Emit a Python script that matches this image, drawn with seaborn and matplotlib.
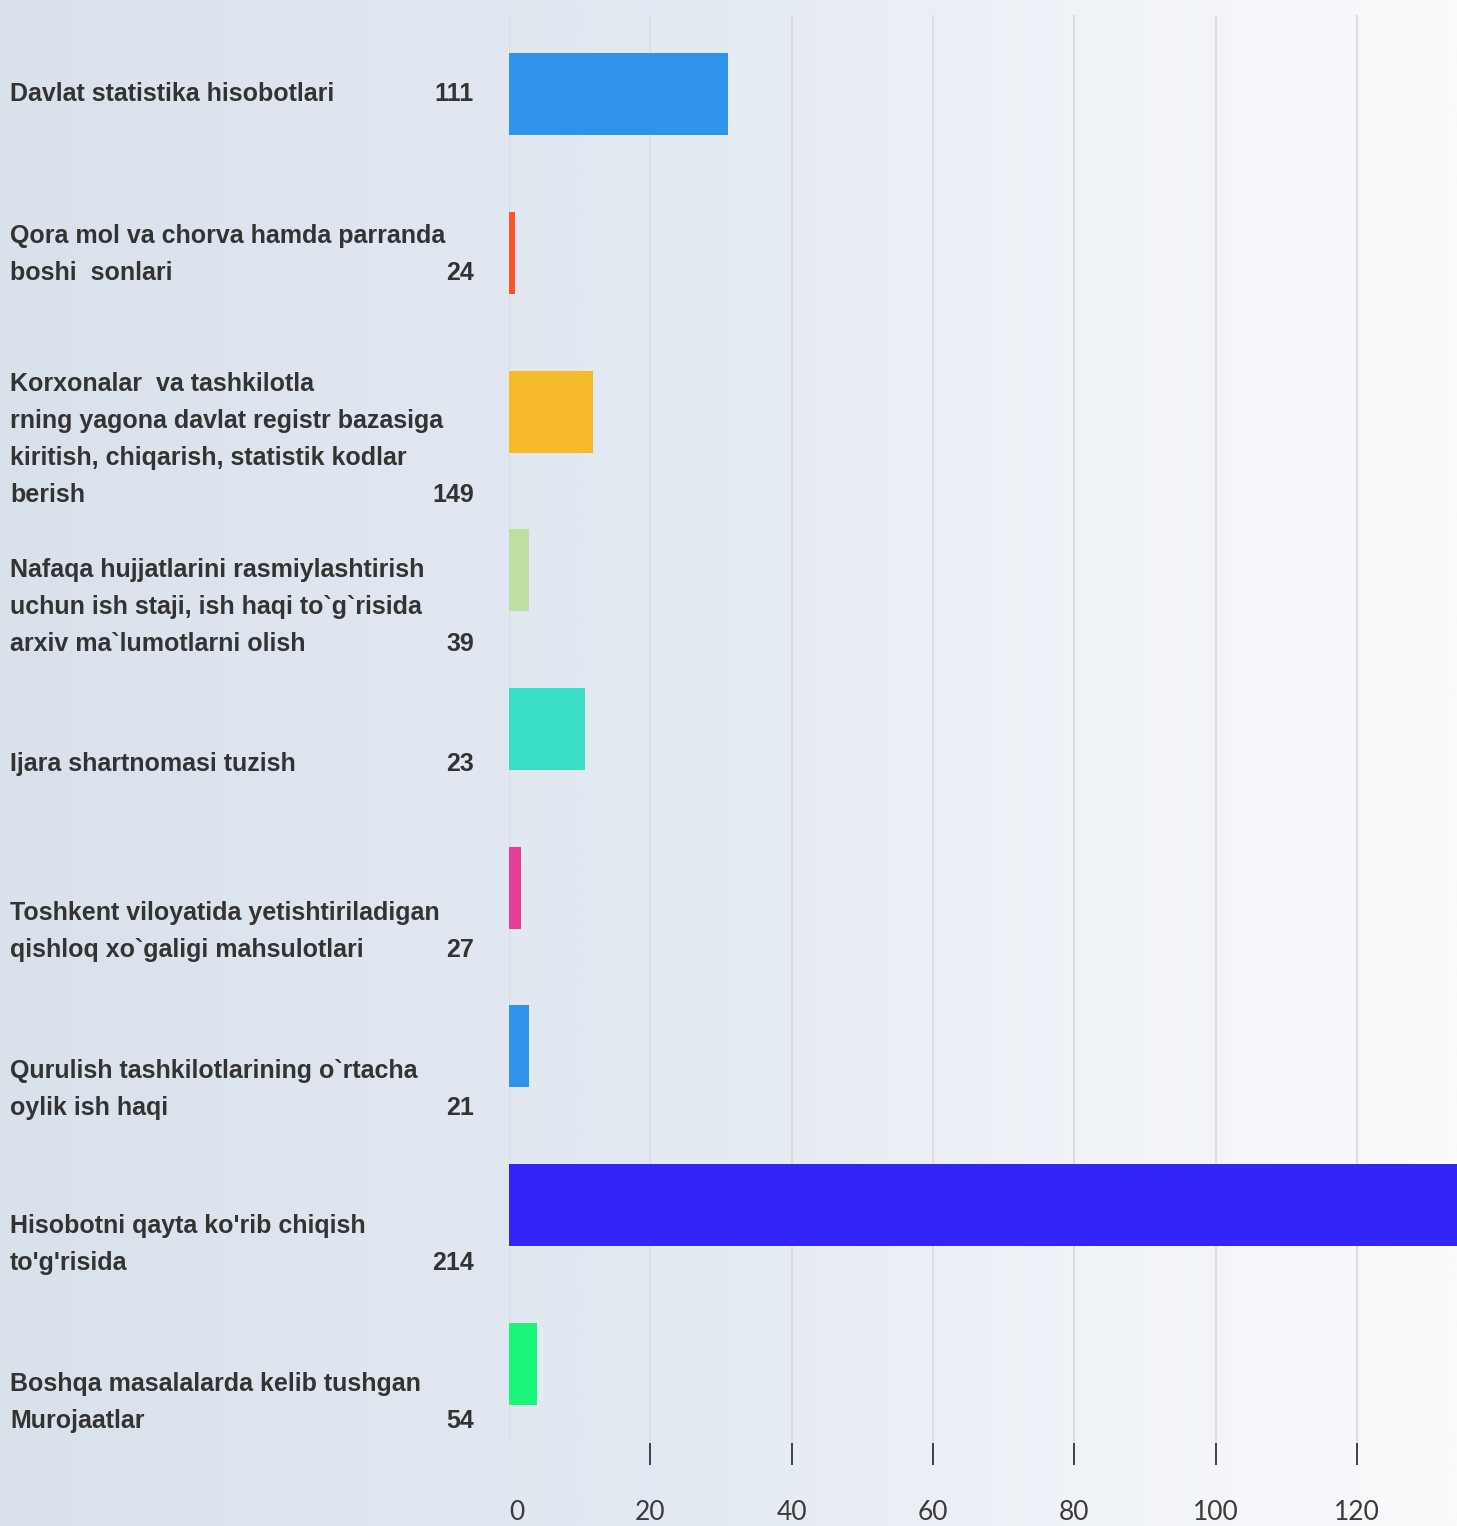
import numpy as np
import pandas as pd
import matplotlib
matplotlib.use("Agg")
import matplotlib.pyplot as plt
import matplotlib.transforms as mtransforms
import seaborn as sns

# categories (as shown on the left), the counts printed next to them, and bar lengths
labels = [
    "Davlat statistika hisobotlari",
    "Qora mol va chorva hamda parranda\nboshi  sonlari",
    "Korxonalar  va tashkilotla\nrning yagona davlat registr bazasiga\nkiritish, chiqarish, statistik kodlar\nberish",
    "Nafaqa hujjatlarini rasmiylashtirish\nuchun ish staji, ish haqi to`g`risida\narxiv ma`lumotlarni olish",
    "Ijara shartnomasi tuzish",
    "Toshkent viloyatida yetishtiriladigan\nqishloq xo`galigi mahsulotlari",
    "Qurulish tashkilotlarining o`rtacha\noylik ish haqi",
    "Hisobotni qayta ko'rib chiqish\nto'g'risida",
    "Boshqa masalalarda kelib tushgan\nMurojaatlar",
]
counts = ["111", "24", "149", "39", "23", "27", "21", "214", "54"]
bar_values = [31.0, 0.9, 11.9, 2.8, 10.8, 1.7, 2.8, 140.0, 4.0]
bar_colors = ["#2f93ec", "#fc532b", "#f6b92b", "#bde0a2", "#3adec4",
              "#e63d96", "#2f93ec", "#3325f8", "#1df57a"]
xticks = [0, 20, 40, 60, 80, 100, 120]

# vertical nudge of each label block relative to its bar (pixels, downward)
label_shift = [0, 1, 28, 37, 35, 44, 43, 40, 39]

sns.set_theme(style="white")
plt.rcParams["font.family"] = ["Liberation Sans Narrow", "Liberation Sans", "DejaVu Sans"]

W, H, DPI = 1457, 1526, 100
fig = plt.figure(figsize=(W / DPI, H / DPI), dpi=DPI)

# background gradient
bg = fig.add_axes([0, 0, 1, 1], zorder=-10)
grad = np.linspace(0, 1, 512)[None, :]
cmap = matplotlib.colors.LinearSegmentedColormap.from_list(
    "bg", ["#d9e1eb", "#e5ebf3", "#fbfbfd"])
bg.imshow(grad, aspect="auto", cmap=cmap, extent=[0, 1, 0, 1])
bg.set_axis_off()

ax = fig.add_axes([509 / W, 83 / H, 1 - 509 / W, (1443 - 15) / H])
ax.patch.set_alpha(0)

df = pd.DataFrame({"label": labels, "value": bar_values})
sns.barplot(data=df, x="value", y="label", hue="label", palette=bar_colors,
            legend=False, width=0.517, orient="h", ax=ax, saturation=1,
            linewidth=0, zorder=3)

ax.set_xlim(0, (W - 509) / ((1357 - 509) / 120))
ax.set_ylim(len(labels) - 0.5, -0.5)
ax.set_xticks(xticks)
ax.set_xticklabels([str(t) for t in xticks], family=["Lato", "DejaVu Sans"],
                   fontsize=19, color="#3a3a3a")
ax.get_xticklabels()[0].set_horizontalalignment("left")
ax.tick_params(axis="x", length=15.8, width=1.1, color="#111111", pad=25,
               direction="out", bottom=True)
ax.xaxis.get_major_ticks()[0].tick1line.set_visible(False)
ax.set_yticks([])
ax.set_xlabel("")
ax.set_ylabel("")
ax.grid(axis="x", color="#dedede", linewidth=1.5, zorder=0)
ax.set_axisbelow(True)
for s in ax.spines.values():
    s.set_visible(False)

# labels on the left
line_h = 37
trans = mtransforms.blended_transform_factory(fig.transFigure, ax.transData)
for i, (lab, cnt) in enumerate(zip(labels, counts)):
    lines = lab.split("\n")
    n = len(lines)
    for j, ln in enumerate(lines):
        dy = label_shift[i] + (j - (n - 1) / 2) * line_h
        tr = mtransforms.offset_copy(trans, fig=fig, x=0, y=-dy, units="dots")
        ax.text(10 / W, i, ln, transform=tr, ha="left", va="center",
                fontsize=18, fontweight="bold", color="#333333")
        if j == n - 1:
            ax.text(474 / W, i, cnt, transform=tr, ha="right", va="center",
                    fontsize=18, fontweight="bold", color="#333333")

fig.savefig("out.png", dpi=DPI)
